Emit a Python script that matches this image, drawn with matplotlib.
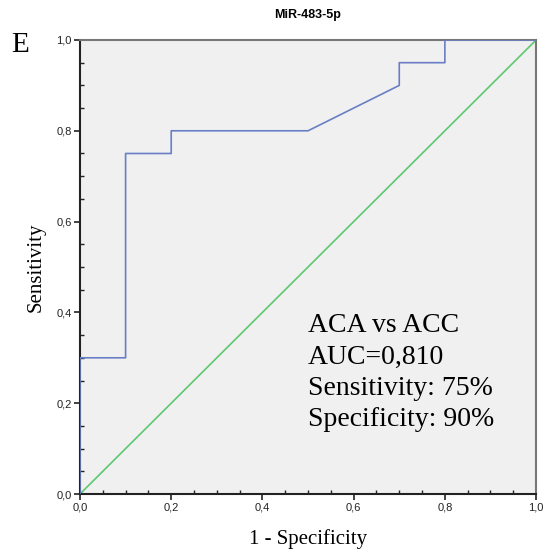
import matplotlib
matplotlib.use("Agg")
import matplotlib.pyplot as plt
from matplotlib.ticker import MultipleLocator, FuncFormatter

# ROC curve points (1 - specificity, sensitivity)
fpr = [0.0, 0.0, 0.1, 0.1, 0.2, 0.2, 0.5, 0.7, 0.7, 0.8, 0.8, 1.0]
tpr = [0.0, 0.3, 0.3, 0.75, 0.75, 0.8, 0.8, 0.9, 0.95, 0.95, 1.0, 1.0]
ref_line = [0.0, 1.0]

title = "MiR-483-5p"
panel = "E"
info = ["ACA vs ACC", "AUC=0,810", "Sensitivity: 75%", "Specificity: 90%"]

fig = plt.figure(figsize=(5.43, 5.5), dpi=100)
ax = fig.add_axes([0.1473, 0.1018, 0.840, 0.8255])
ax.set_facecolor("#f0f0f0")

ax.plot(ref_line, ref_line, color="#5cc870", lw=1.2, zorder=2)
ax.plot(fpr, tpr, color="#6a7ec6", lw=1.2, zorder=3)

ax.set_xlim(0, 1)
ax.set_ylim(0, 1)

fmt = FuncFormatter(lambda v, p: f"{v:.1f}".replace(".", ","))
for axis in (ax.xaxis, ax.yaxis):
    axis.set_major_locator(MultipleLocator(0.2))
    axis.set_minor_locator(MultipleLocator(0.05))
    axis.set_major_formatter(fmt)

ax.tick_params(which="major", direction="out", length=4, width=1.2, color="#222222",
               labelsize=8, labelcolor="#222222", pad=2)
ax.tick_params(which="minor", direction="in", length=3, width=1, color="#222222")
for lab in ax.get_xticklabels() + ax.get_yticklabels():
    lab.set_family("Liberation Sans")

for s in ("left", "bottom"):
    ax.spines[s].set_color("#222222")
    ax.spines[s].set_linewidth(1.5)
for s in ("top", "right"):
    ax.spines[s].set_color("#777777")
    ax.spines[s].set_linewidth(1.5)

ax.set_xlabel("1 - Specificity", family="Liberation Serif", fontsize=15, labelpad=12)
ax.set_ylabel("Sensitivity", family="Liberation Serif", fontsize=15, labelpad=8)
ax.set_title(title, fontsize=9, fontweight="bold", family="Liberation Sans", pad=16)

fig.text(0.037, 0.918, panel, family="Liberation Serif", fontsize=21, ha="center", va="center")

ax.text(0.50, 0.398, "\n".join(info), family="Liberation Serif", fontsize=20,
        ha="left", va="top", linespacing=1.33)

fig.savefig("out.png", dpi=100)
